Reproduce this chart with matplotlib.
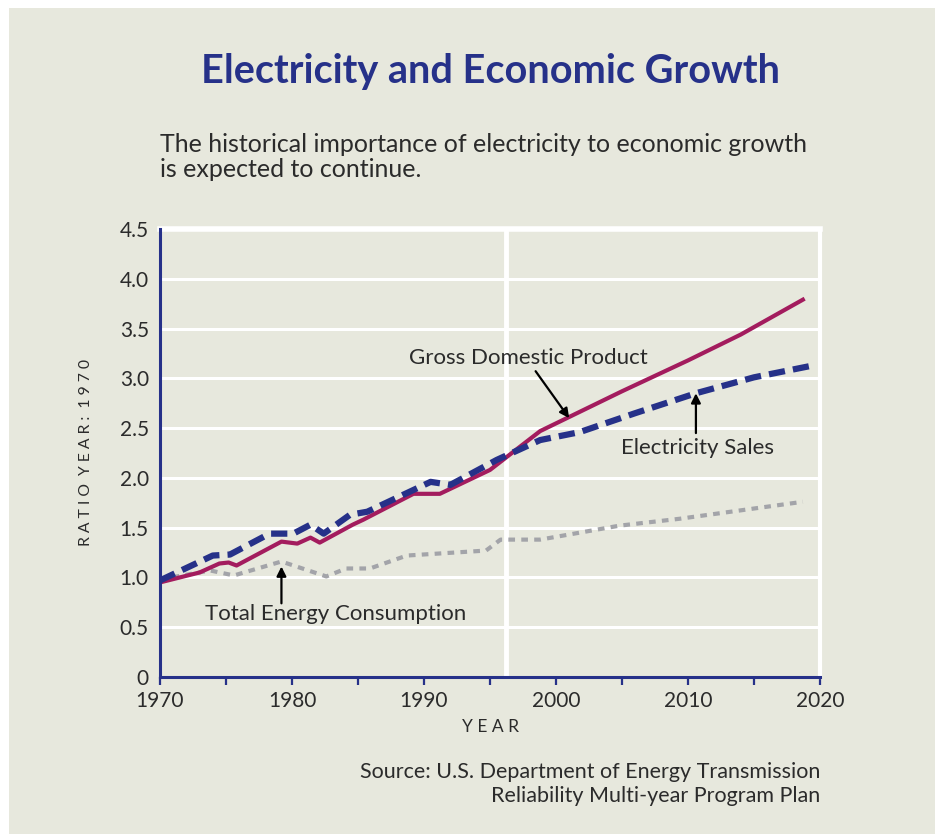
import matplotlib
matplotlib.use("Agg")
import matplotlib.pyplot as plt
from matplotlib.patches import Rectangle

# ---- data ----
gdp_years = [1970, 1973, 1974.5, 1975.2, 1975.8, 1979.2, 1980.4, 1981.4, 1982.1,
             1984.6, 1985.4, 1989.2, 1991.2, 1995, 1998.8, 2005, 2010, 2014, 2018.7]
gdp_vals = [0.95, 1.05, 1.14, 1.15, 1.12, 1.36, 1.34, 1.40, 1.35,
            1.53, 1.58, 1.84, 1.84, 2.08, 2.47, 2.87, 3.18, 3.44, 3.79]

elec_years = [1970, 1974, 1975.3, 1978.3, 1980.1, 1981.4, 1982.4, 1984.4, 1985.7,
              1990.5, 1992, 1995.5, 1998.8, 2001.8, 2006, 2010.6, 2015, 2019.5]
elec_vals = [0.97, 1.22, 1.23, 1.44, 1.44, 1.53, 1.44, 1.63, 1.66,
             1.96, 1.93, 2.18, 2.38, 2.46, 2.65, 2.85, 3.01, 3.13]

energy_years = [1970, 1973.8, 1975.6, 1979.2, 1982.6, 1984.1, 1985.9, 1988.7,
                1994.7, 1995.8, 1998.8, 2004.8, 2009.4, 2018.7]
energy_vals = [0.98, 1.07, 1.02, 1.16, 1.01, 1.09, 1.09, 1.22,
               1.27, 1.38, 1.38, 1.52, 1.59, 1.76]

x_ticks = [1970, 1975, 1980, 1985, 1990, 1995, 2000, 2005, 2010, 2015, 2020]
x_ticklabels = ["1970", "", "1980", "", "1990", "", "2000", "", "2010", "", "2020"]
y_ticks = [0, 0.5, 1.0, 1.5, 2.0, 2.5, 3.0, 3.5, 4.0, 4.5]
y_ticklabels = ["0", "0.5", "1.0", "1.5", "2.0", "2.5", "3.0", "3.5", "4.0", "4.5"]
divider_year = 1996.2

title = "Electricity and Economic Growth"
subtitle = "The historical importance of electricity to economic growth\nis expected to continue."
source = "Source: U.S. Department of Energy Transmission\nReliability Multi-year Program Plan"

# ---- style ----
BG = "#E7E8DD"
NAVY = "#263189"
MAGENTA = "#A31C5E"
GRAY = "#A3A4A9"
TXT = "#2B2B2B"
FONT = ["Lato", "DejaVu Sans"]
plt.rcParams["font.family"] = FONT

W, H = 941, 834
fig = plt.figure(figsize=(W / 100, H / 100), dpi=100, facecolor="white")
fig.patches.append(Rectangle((9 / W, 0), (935 - 9) / W, (H - 8) / H,
                             transform=fig.transFigure, facecolor=BG,
                             edgecolor="none", zorder=-10))

ax = fig.add_axes([160 / W, (H - 677) / H, 660 / W, 448 / H])
ax.set_facecolor(BG)
ax.set_xlim(1970, 2020)
ax.set_ylim(0, 4.5)

# grid
for y in y_ticks[1:]:
    ax.axhline(y, color="white", lw=2.2 if y < 4.5 else 4, zorder=1, clip_on=False)
ax.axvline(divider_year, color="white", lw=3.5, zorder=1)

# spines
ax.spines["top"].set_visible(False)
ax.spines["right"].set_color("white")
ax.spines["right"].set_linewidth(3)
ax.spines["left"].set_color(NAVY)
ax.spines["left"].set_linewidth(2.2)
ax.spines["bottom"].set_color(NAVY)
ax.spines["bottom"].set_linewidth(2.2)
ax.spines["left"].set_zorder(5)
ax.spines["bottom"].set_zorder(5)

ax.set_xticks(x_ticks)
ax.set_xticklabels(x_ticklabels)
ax.set_yticks(y_ticks)
ax.set_yticklabels(y_ticklabels)
ax.tick_params(axis="x", direction="out", length=6, width=1.6, color=NAVY,
               labelsize=15, labelcolor=TXT, pad=4)
ax.tick_params(axis="y", length=0, labelsize=15, labelcolor=TXT, pad=8)

# lines
ax.plot(energy_years, energy_vals, color=GRAY, lw=3, dashes=(1.6, 1.5),
        zorder=3)
ax.plot(gdp_years, gdp_vals, color=MAGENTA, lw=3, zorder=4)
ax.plot(elec_years, elec_vals, color=NAVY, lw=4.5, dashes=(2.6, 1.3), zorder=4)

# annotations
ANN = 16
ax.annotate("Gross Domestic Product", xy=(2001.0, 2.60), xytext=(1988.9, 3.2),
            fontsize=ANN, color=TXT, ha="left", va="center",
            arrowprops=dict(arrowstyle="-|>", color="black", lw=1.6,
                            shrinkA=0, shrinkB=0, mutation_scale=14,
                            relpos=(0.52, 0.0)),
            zorder=6)
ax.annotate("", xy=(2010.6, 2.85), xytext=(2010.6, 2.45),
            arrowprops=dict(arrowstyle="-|>", color="black", lw=1.6,
                            shrinkA=0, shrinkB=0, mutation_scale=14), zorder=6)
ax.text(2004.9, 2.30, "Electricity Sales", fontsize=ANN, color=TXT,
        ha="left", va="center", zorder=6)
ax.annotate("", xy=(1979.2, 1.11), xytext=(1979.2, 0.74),
            arrowprops=dict(arrowstyle="-|>", color="black", lw=1.6,
                            shrinkA=0, shrinkB=0, mutation_scale=14), zorder=6)
ax.text(1973.4, 0.63, "Total Energy Consumption", fontsize=ANN, color=TXT,
        ha="left", va="center", zorder=6)

# axis labels
fig.text(86 / W, 1 - 452 / H, "R A T I O  Y E A R :  1 9 7 0", rotation=90,
         fontsize=11.3, color=TXT, ha="center", va="center")
fig.text(490 / W, 1 - 727 / H, "Y E A R", fontsize=12.5, color=TXT,
         ha="center", va="center")

# title / subtitle / source
fig.text(490 / W, 1 - 72 / H, title, fontsize=28.5, fontweight="bold",
         color=NAVY, ha="center", va="center")
fig.text(160 / W, 1 - 157 / H, subtitle, fontsize=18, color=TXT,
         ha="left", va="center", linespacing=1.15)
fig.text(820 / W, 1 - 784 / H, source, fontsize=15.5, color=TXT,
         ha="right", va="center", linespacing=1.3)

fig.savefig("out.png", dpi=100, facecolor="white")
